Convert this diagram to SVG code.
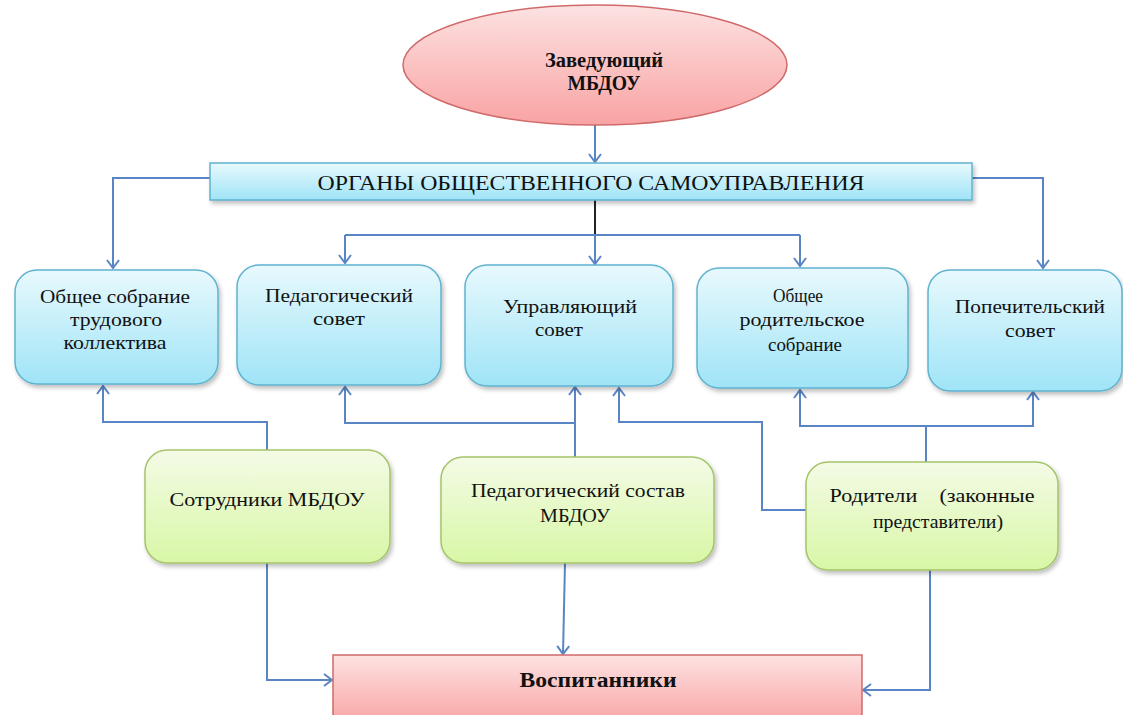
<svg xmlns="http://www.w3.org/2000/svg" width="1123" height="715" viewBox="0 0 1123 715">
<style>
.t{font-family:"Liberation Serif","Times New Roman",serif;font-size:19px;fill:#111;text-anchor:middle}
.b{font-weight:bold;font-size:20px}
.blue{fill:url(#gBlue);stroke:#5fb3cf;stroke-width:1.5;filter:url(#sh)}
.green{fill:url(#gGreen);stroke:#a5c46a;stroke-width:1.5;filter:url(#sh)}
.pink{fill:url(#gPink);stroke:#d06a6a;stroke-width:1.5}
.c{fill:none;stroke:#5a85c4;stroke-width:2}
.ca{fill:none;stroke:#5a85c4;stroke-width:2;marker-end:url(#arr)}
</style>
<defs>
<linearGradient id="gBlue" x1="0" y1="0" x2="0" y2="1"><stop offset="0" stop-color="#e8f9fd"/><stop offset="1" stop-color="#9fe4f7"/></linearGradient>
<linearGradient id="gGreen" x1="0" y1="0" x2="0" y2="1"><stop offset="0" stop-color="#f4fbe6"/><stop offset="1" stop-color="#d8f7a6"/></linearGradient>
<linearGradient id="gPink" x1="0" y1="0" x2="0" y2="1"><stop offset="0" stop-color="#fde2e2"/><stop offset="1" stop-color="#f9a3a3"/></linearGradient>
<filter id="sh" x="-10%" y="-10%" width="125%" height="130%"><feDropShadow dx="2" dy="3" stdDeviation="2" flood-color="#000" flood-opacity="0.25"/></filter>
<marker id="arr" markerUnits="userSpaceOnUse" markerWidth="14" markerHeight="14" refX="11" refY="7" orient="auto"><path d="M3,1 L11,7 L3,13" fill="none" stroke="#5a85c4" stroke-width="2"/></marker>
</defs>

<g id="connectors">
<path class="ca" d="M595,125 V162"/>
<path class="ca" d="M210,178 H113 V268"/>
<path class="ca" d="M972,178 H1043 V268"/>
<path d="M595,200 V235" fill="none" stroke="#222" stroke-width="2"/>
<path class="c" d="M345,235 H800"/>
<path class="ca" d="M345,235 V263"/>
<path class="ca" d="M595,235 V264"/>
<path class="ca" d="M800,235 V266"/>
<path class="ca" d="M267,450 V422 H103 V386"/>
<path class="ca" d="M575,457 V387"/>
<path class="ca" d="M575,423 H345 V387"/>
<path class="ca" d="M806,510 H762 V422 H619 V388"/>
<path class="ca" d="M926,462 V426 H800 V390"/>
<path class="ca" d="M926,426 H1033 V392"/>
<path class="ca" d="M267,563 V680 H332"/>
<path class="ca" d="M565,563 L563,654"/>
<path class="ca" d="M930,570 V690 H863"/>
</g>

<g id="head">
<ellipse cx="595" cy="65" rx="192" ry="60" class="pink"/>
<text class="t b" x="604" y="67" textLength="118" lengthAdjust="spacingAndGlyphs">Заведующий</text>
<text class="t b" x="604" y="90" textLength="73" lengthAdjust="spacingAndGlyphs">МБДОУ</text>
</g>

<g id="organs">
<rect x="210" y="163" width="762" height="37" class="blue"/>
<text class="t" x="591" y="190" textLength="547" lengthAdjust="spacingAndGlyphs" style="font-size:20px">ОРГАНЫ ОБЩЕСТВЕННОГО САМОУПРАВЛЕНИЯ</text>
</g>

<g id="obshee-sobranie">
<rect x="15" y="270" width="203" height="114" rx="22" class="blue"/>
<text class="t" x="115" y="303" textLength="150" lengthAdjust="spacingAndGlyphs">Общее собрание</text>
<text class="t" x="116" y="326" textLength="92" lengthAdjust="spacingAndGlyphs">трудового</text>
<text class="t" x="115" y="349" textLength="103" lengthAdjust="spacingAndGlyphs">коллектива</text>
</g>

<g id="ped-sovet">
<rect x="237" y="265" width="204" height="120" rx="22" class="blue"/>
<text class="t" x="339" y="302" textLength="148" lengthAdjust="spacingAndGlyphs">Педагогический</text>
<text class="t" x="339" y="325" textLength="52" lengthAdjust="spacingAndGlyphs">совет</text>
</g>

<g id="upr-sovet">
<rect x="465" y="265" width="208" height="121" rx="22" class="blue"/>
<text class="t" x="570" y="313" textLength="134" lengthAdjust="spacingAndGlyphs">Управляющий</text>
<text class="t" x="559" y="336" textLength="48" lengthAdjust="spacingAndGlyphs">совет</text>
</g>

<g id="rod-sobranie">
<rect x="697" y="268" width="211" height="120" rx="22" class="blue"/>
<text class="t" x="798" y="302" textLength="50" lengthAdjust="spacingAndGlyphs">Общее</text>
<text class="t" x="802" y="326" textLength="125" lengthAdjust="spacingAndGlyphs">родительское</text>
<text class="t" x="805" y="351" textLength="74" lengthAdjust="spacingAndGlyphs">собрание</text>
</g>

<g id="popech-sovet">
<rect x="928" y="270" width="194" height="121" rx="22" class="blue"/>
<text class="t" x="1030" y="313" textLength="150" lengthAdjust="spacingAndGlyphs">Попечительский</text>
<text class="t" x="1030" y="337" textLength="50" lengthAdjust="spacingAndGlyphs">совет</text>
</g>

<g id="sotrudniki">
<rect x="145" y="450" width="245" height="113" rx="22" class="green"/>
<text class="t" x="267" y="506" textLength="195" lengthAdjust="spacingAndGlyphs">Сотрудники МБДОУ</text>
</g>

<g id="ped-sostav">
<rect x="441" y="457" width="273" height="106" rx="22" class="green"/>
<text class="t" x="578" y="497" textLength="214" lengthAdjust="spacingAndGlyphs">Педагогический состав</text>
<text class="t" x="575" y="522" textLength="70" lengthAdjust="spacingAndGlyphs">МБДОУ</text>
</g>

<g id="roditeli">
<rect x="806" y="462" width="252" height="108" rx="22" class="green"/>
<text class="t" x="932" y="502" textLength="205" lengthAdjust="spacingAndGlyphs" style="white-space:pre">Родители    (законные</text>
<text class="t" x="938" y="528" textLength="130" lengthAdjust="spacingAndGlyphs">представители)</text>
</g>

<g id="vospitanniki">
<rect x="333" y="655" width="529" height="70" class="pink"/>
<text class="t b" x="598" y="687" textLength="157" lengthAdjust="spacingAndGlyphs">Воспитанники</text>
</g>
</svg>
